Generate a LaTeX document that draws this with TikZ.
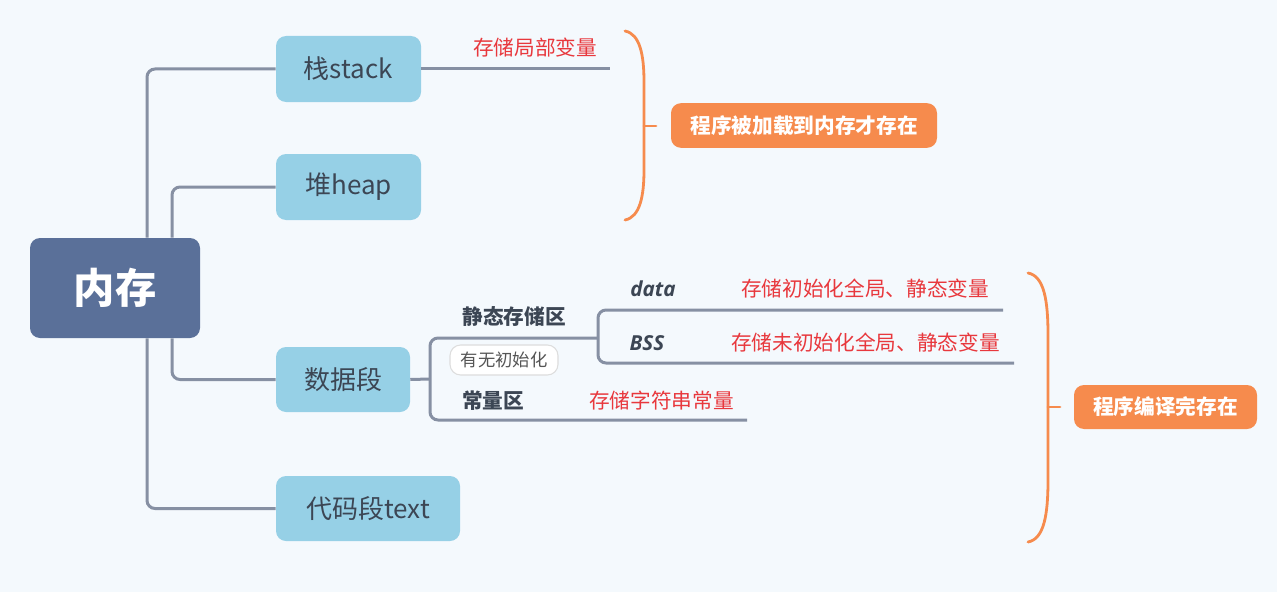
\documentclass[tikz,border=0pt]{standalone}
\usepackage{fontspec}
\setmainfont{Noto Sans CJK SC}
\newfontfamily\latinbi{Open Sans}
\usetikzlibrary{calc}
\definecolor{bg}{HTML}{F4F9FD}
\definecolor{rootc}{HTML}{5A7099}
\definecolor{lvone}{HTML}{96D0E6}
\definecolor{txtc}{HTML}{3C4654}
\definecolor{linec}{HTML}{8690A3}
\definecolor{redc}{HTML}{E8383D}
\definecolor{orangec}{HTML}{F68B4D}
\definecolor{tagc}{HTML}{555555}
\definecolor{tagb}{HTML}{DDDDDD}
\tikzset{
  conn/.style={draw=linec, line width=2.25pt, rounded corners=6pt},
  brace/.style={draw=orangec, line width=2.1pt, line cap=round},
  rootbox/.style={fill=rootc, rounded corners=7.5pt, minimum width=127.5pt, minimum height=75pt, inner sep=0pt, text=white, font=\fontsize{31}{36}\selectfont\bfseries},
  lvbox/.style={fill=lvone, rounded corners=7.5pt, minimum height=49.5pt, inner sep=0pt, text=txtc, font=\fontsize{19.5}{24}\selectfont},
  summ/.style={fill=orangec, rounded corners=7.5pt, minimum height=33.5pt, inner sep=0pt, text=white, font=\fontsize{15.5}{19}\selectfont\bfseries},
  redlbl/.style={text=redc, inner sep=0pt, font=\fontsize{15.5}{19}\selectfont},
  sublbl/.style={text=txtc, inner sep=0pt, font=\fontsize{15.5}{19}\selectfont\bfseries},
  itlbl/.style={text=txtc, inner sep=0pt, font=\latinbi\fontsize{15.5}{19}\selectfont\bfseries\itshape},
  tag/.style={fill=white, draw=tagb, line width=0.8pt, rounded corners=8pt, minimum width=81pt, minimum height=22.5pt, inner sep=0pt, text=tagc, font=\fontsize{13}{16}\selectfont},
}
\begin{document}
\begin{tikzpicture}[x=0.75pt,y=-0.75pt]
\fill[bg] (0,0) rectangle (1277,592);
\useasboundingbox (0,0) rectangle (1277,592);

% nodes
\node[rootbox] (root) at (115,288) {内存};
\node[lvbox, minimum width=108.75pt] (stack) at (348.5,69) {栈stack};
\node[lvbox, minimum width=108.75pt] (heap) at (348.5,187) {堆heap};
\node[lvbox, minimum width=100.5pt, minimum height=48.75pt] (dseg) at (343,379.5) {数据段};
\node[lvbox, minimum width=138pt, minimum height=48.75pt] (code) at (368,508.5) {代码段text};

% root connectors
\draw[conn] ([xshift=24pt]root.north) |- (stack.west);
\draw[conn] ([xshift=42.75pt]root.north) |- (heap.west);
\draw[conn] ([xshift=42.75pt]root.south) |- (dseg.west);
\draw[conn] ([xshift=24pt]root.south) |- (code.west);

% stack branch
\coordinate (stackend) at (610,69);
\draw[conn] (stack.east) -- (stackend);
\node[redlbl] (stacklbl) at (535,48) {存储局部变量};

% data segment branches
\coordinate (b1top) at (598,338);
\coordinate (b1bot) at (747,420);
\coordinate (b1mid) at (430,379);
\draw[conn] (dseg.east) -- (b1mid);
\draw[conn] (b1top) -- (430,338) -- (430,420) -- (b1bot);
\coordinate (b2top) at (1003,310);
\coordinate (b2bot) at (1014,363);
\draw[conn] (b2top) -- (598,310) -- (598,363) -- (b2bot);

\node[sublbl] (static) at (514,317) {静态存储区};
\node[sublbl] (const) at (493,401) {常量区};
\node[tag] (tagn) at (504,360) {有无初始化};
\node[itlbl] (datal) at (653,289) {data};
\node[itlbl] (bssl) at (647,343) {BSS};
\node[redlbl] (datar) at (865,289) {存储初始化全局、静态变量};
\node[redlbl] (bssr) at (865.5,343) {存储未初始化全局、静态变量};
\node[redlbl] (constr) at (661.5,401) {存储字符串常量};

% braces
\draw[brace] (625,31) .. controls (640,34) and (644,55) .. (644,82) -- (644,170) .. controls (644,196) and (640,217) .. (625,220);
\coordinate (t1) at (644,126);
\node[summ, minimum width=199.5pt] (sum1) at (804,125.5) {程序被加载到内存才存在};
\draw[brace] (t1) -- ++(12,0);

\draw[brace] (1028,273) .. controls (1044,276) and (1048,300) .. (1048,335) -- (1048,480) .. controls (1048,515) and (1044,539) .. (1028,542);
\coordinate (t2) at (1048,407);
\node[summ, minimum width=137.25pt, minimum height=33pt] (sum2) at (1165.5,407) {程序编译完存在};
\draw[brace] (t2) -- ++(12,0);
\end{tikzpicture}
\end{document}
